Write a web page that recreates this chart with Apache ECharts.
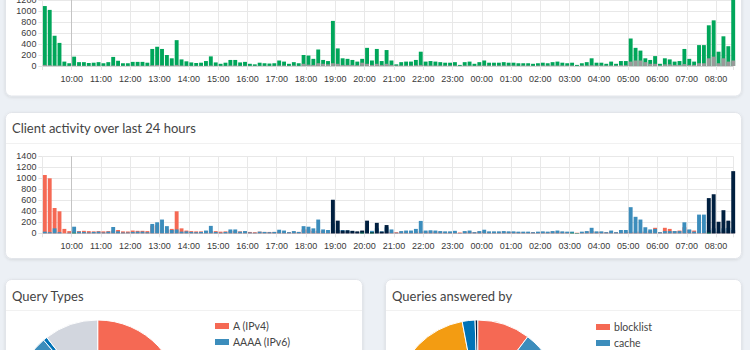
<!DOCTYPE html>
<html><head><meta charset="utf-8">
<script src="https://cdn.jsdelivr.net/npm/echarts@6/dist/echarts.min.js"></script>
<style>html,body{margin:0;padding:0;background:#ecf0f5;}#c{width:750px;height:350px;}</style>
</head><body><div id="c"></div>
<script>
// ---- time slots (10-minute bins, first bin centred at 09:05) ----
const firstSlotMinute = 545;   // 09:05
const slotMinutes = 10;

// ---- Total queries over last 24 hours (one row per hour, 09:05 .. 08:35) ----
const totalQueries = [
  1090,1020,550,420,80,50,     // 09
  170,70,70,55,60,70,          // 10
  50,70,165,95,50,50,          // 11
  75,75,75,60,310,350,         // 12
  310,200,140,470,120,85,      // 13
  65,55,60,90,175,65,          // 14
  40,60,110,110,65,75,         // 15
  40,30,60,50,45,50,           // 16
  100,80,40,70,50,200,         // 17
  190,130,300,110,90,820,      // 18
  320,140,130,110,80,130,      // 19
  330,100,310,90,290,100,      // 20
  30,70,80,80,110,260,         // 21
  80,90,80,70,60,60,           // 22
  70,20,70,80,40,70,           // 23
  100,60,60,60,70,60,          // 00
  60,50,50,50,40,50,           // 01
  60,50,70,80,60,50,           // 02
  60,20,50,70,140,60,          // 03
  60,40,80,40,90,90,           // 04
  500,330,280,140,110,180,     // 05
  40,140,120,80,90,310,        // 06
  130,80,380,380,740,830,      // 07
  260,540,360,1220             // 08
];
const blockedQueries = [
  20,15,10,10,5,5,
  10,5,5,5,5,5,
  5,5,10,5,5,5,
  5,5,5,5,15,20,
  15,10,10,20,10,5,
  5,5,5,5,10,5,
  5,5,10,10,5,5,
  5,5,5,5,5,5,
  10,10,5,10,5,40,
  25,20,50,40,30,50,
  40,20,20,20,15,60,
  40,20,40,20,40,20,
  10,10,10,10,15,20,
  10,10,10,10,10,10,
  10,5,10,10,5,10,
  10,10,10,10,10,10,
  10,5,10,10,5,10,
  10,10,10,10,10,10,
  10,5,10,10,15,10,
  10,10,10,10,15,15,
  80,100,100,70,40,40,
  10,30,30,20,20,35,
  20,20,50,50,140,170,
  50,140,80,100
];

// ---- Client activity (stacked per client) ----
const clientRed = [
  1060,1000,460,400,80,40,
  40,40,45,40,35,40,
  35,40,50,60,35,35,
  50,45,45,40,140,150,
  60,70,80,400,90,50,
  40,35,35,40,40,40,
  30,35,40,40,35,35,
  25,20,30,25,25,25,
  35,30,20,30,25,70,
  70,40,50,40,30,30,
  30,30,25,25,25,30,
  30,25,30,25,30,30,
  20,30,30,30,30,35,
  30,35,30,30,25,25,
  25,15,30,30,20,30,
  35,25,25,25,30,25,
  25,20,20,20,20,20,
  25,20,30,30,25,20,
  20,10,20,30,40,25,
  25,20,30,20,30,30,
  25,30,30,30,40,100,
  20,100,80,40,50,110,
  60,50,40,40,30,30,
  20,30,30,30
];
const clientBlue = [
  30,20,90,20,0,10,
  120,30,25,15,25,30,
  15,30,115,35,15,15,
  25,30,30,20,170,200,
  250,130,60,70,30,35,
  25,20,25,50,135,25,
  10,25,70,70,30,40,
  15,10,30,25,20,25,
  65,50,20,40,25,130,
  120,90,250,70,60,180,
  60,60,50,40,20,40,
  70,45,90,35,110,70,
  10,40,50,50,80,225,
  50,55,50,40,35,35,
  45,5,40,50,20,40,
  65,35,35,35,40,35,
  35,30,30,30,20,30,
  35,30,40,50,35,30,
  30,5,30,40,100,35,
  35,20,50,20,60,60,
  475,300,250,110,70,80,
  20,40,40,40,40,200,
  70,30,340,340,60,90,
  30,90,100,60
];
const clientNavy = [
  0,0,0,0,0,0,
  0,0,0,0,0,0,
  0,0,0,0,0,0,
  0,0,0,0,0,0,
  0,0,0,0,0,0,
  0,0,0,0,0,0,
  0,0,0,0,0,0,
  0,0,0,0,0,0,
  0,0,0,0,0,0,
  0,0,0,0,0,610,
  230,50,55,45,35,50,
  230,20,190,30,150,0,
  0,0,0,0,0,0,
  0,0,0,0,0,0,
  0,0,0,0,0,0,
  0,0,0,0,0,0,
  0,0,0,0,0,0,
  0,0,0,0,0,0,
  0,0,0,0,0,0,
  0,0,0,0,0,0,
  0,0,0,0,0,0,
  0,0,0,0,0,0,
  0,0,0,0,640,710,
  210,420,230,1130
];
const clientGreen = [
  0,0,0,0,0,0,
  10,0,0,0,0,0,
  0,0,0,0,0,0,
  0,0,0,0,0,0,
  0,0,0,0,0,0,
  0,0,0,0,0,0,
  0,0,0,0,0,0,
  0,0,0,0,0,0,
  0,0,0,0,0,0,
  0,0,0,0,0,0,
  0,0,0,0,0,10,
  0,10,0,0,0,0,
  0,0,0,0,0,0,
  0,0,0,0,0,0,
  0,0,0,0,0,0,
  0,0,0,0,0,0,
  0,0,0,0,0,0,
  0,0,0,0,0,0,
  10,5,0,0,0,0,
  0,0,0,0,0,0,
  0,0,0,0,0,0,
  0,0,0,0,0,0,
  0,0,0,0,10,0,
  0,0,0,0
];

// ---- Pie charts ----
const queryTypeNames  = ['A (IPv4)', 'AAAA (IPv6)', 'PTR', 'HTTPS'];
const queryTypeValues = [52.0, 36.7, 0.8, 10.5];
const queryTypeColors = ['#f56954', '#3c8dbc', '#0073b7', '#d2d6de'];
const queryTypeLegendShown = ['A (IPv4)', 'AAAA (IPv6)'];

const answeredNames  = ['blocklist', 'cache', 'other', 'dns9.quad9.net#53', 'dns.google#53', 'one.one.one.one#53', 'localhost#53'];
const answeredValues = [10.3, 25.0, 8.0, 15.0, 38.7, 2.5, 0.5];
const answeredColors = ['#f56954', '#3c8dbc', '#00a65a', '#00c0ef', '#f39c12', '#0073b7', '#001f3f'];
const answeredLegendShown = ['blocklist', 'cache'];

// ---- axis ----
const axisMin = 540;    // 09:00
const axisMax = 1955;   // 08:35 next day
const yMax = 1400, yStep = 200;

const slotX = totalQueries.map((_, i) => firstSlotMinute + i * slotMinutes);
const pair = arr => arr.map((v, i) => [slotX[i], v]);

const tickFont = 'Liberation Sans, Arial, sans-serif';
const uiFont = 'Lato, "Noto Sans", sans-serif';

function hourLabel(v) {
  if (v % 60 !== 0 || v <= axisMin || v >= axisMax) return '';
  const h = (v / 60) % 24;
  return String(h).padStart(2, '0') + ':00';
}
function xAxisCfg(gridIndex) {
  return {
    type: 'value', gridIndex, min: axisMin, max: axisMax, interval: 60,
    axisLine: { show: true, lineStyle: { color: '#d4d4d4' } },
    axisTick: { show: true, length: 4, lineStyle: { color: '#e4e4e4' } },
    axisLabel: { formatter: hourLabel, fontSize: 9, fontFamily: tickFont, color: '#3a3a3a', margin: 8 },
    splitLine: { show: true, lineStyle: { color: '#e8e8e8', width: 1 } }
  };
}
function yAxisCfg(gridIndex) {
  return {
    type: 'value', gridIndex, min: 0, max: yMax, interval: yStep,
    axisLine: { show: false },
    axisTick: { show: true, length: 4, lineStyle: { color: '#e4e4e4' } },
    axisLabel: { fontSize: 9, fontFamily: tickFont, color: '#3a3a3a', margin: 6,
      showMinLabel: true, showMaxLabel: true, formatter: v => String(v) },
    splitLine: { show: true, lineStyle: { color: '#e8e8e8', width: 1 } }
  };
}
const zeroLine = {
  silent: true, symbol: 'none', animation: false,
  label: { show: false },
  lineStyle: { color: '#c4c4c4', width: 1, type: 'solid' },
  data: [{ xAxis: 600 }]
};

function card(x, y, w, h) {
  return { type: 'rect', z: -10, shape: { x, y, width: w, height: h, r: 6 },
    style: { fill: '#fff', stroke: '#e2e5ea', lineWidth: 1, shadowBlur: 3, shadowColor: 'rgba(0,0,0,0.10)', shadowOffsetY: 1 } };
}
function hline(x1, x2, y) {
  return { type: 'line', z: -9, shape: { x1, y1: y, x2, y2: y }, style: { stroke: '#f1f1f1', lineWidth: 1 } };
}
function title(x, y, text) {
  return { type: 'text', z: -8, x, y, style: { text, font: '13px ' + uiFont, fill: '#444', verticalAlign: 'middle', align: 'left' } };
}
function legendCfg(data, left, top) {
  return { data, orient: 'vertical', left, top, width: 140, height: 200, icon: 'rect',
    itemWidth: 16, itemHeight: 8, itemGap: 4, selectedMode: false, padding: 0,
    textStyle: { fontSize: 10.5, fontFamily: uiFont, color: '#444', lineHeight: 12, padding: [0, 0, 0, -2] } };
}

const chart = echarts.init(document.getElementById('c'), null, { renderer: 'svg', width: 750, height: 350 });
const barW = 3.9;
chart.setOption({
  backgroundColor: '#ecf0f5',
  animation: false,
  graphic: [
    card(5.5, -20, 736, 116),
    card(5.5, 112.5, 736, 146),
    hline(6, 741, 143.5),
    title(12, 128, 'Client activity over last 24 hours'),
    card(5.5, 279.5, 357, 120),
    card(385.5, 279.5, 356, 120),
    hline(6, 362, 310.5),
    hline(386, 741, 310.5),
    title(12, 296, 'Query Types'),
    title(392, 296, 'Queries answered by')
  ],
  grid: [
    { left: 42.4, top: -11, width: 690.8, height: 77, containLabel: false, outerBoundsMode: 'none' },
    { left: 42.4, top: 156.3, width: 690.8, height: 77, containLabel: false, outerBoundsMode: 'none' }
  ],
  xAxis: [xAxisCfg(0), xAxisCfg(1)],
  yAxis: [yAxisCfg(0), yAxisCfg(1)],
  legend: [
    legendCfg(queryTypeLegendShown, 213, 320),
    legendCfg(answeredLegendShown, 594, 321)
  ],
  series: [
    { type: 'bar', name: 'Permitted', xAxisIndex: 0, yAxisIndex: 0, barWidth: barW, barGap: '-100%',
      itemStyle: { color: '#00a65a' }, data: pair(totalQueries), markLine: zeroLine },
    { type: 'bar', name: 'Blocked', xAxisIndex: 0, yAxisIndex: 0, barWidth: barW, barGap: '-100%',
      itemStyle: { color: '#999999' }, data: pair(blockedQueries) },

    { type: 'bar', name: 'client-1', stack: 'clients', xAxisIndex: 1, yAxisIndex: 1, barWidth: barW,
      itemStyle: { color: '#f56954' }, data: pair(clientRed), markLine: zeroLine },
    { type: 'bar', name: 'client-2', stack: 'clients', xAxisIndex: 1, yAxisIndex: 1, barWidth: barW,
      itemStyle: { color: '#3c8dbc' }, data: pair(clientBlue) },
    { type: 'bar', name: 'client-3', stack: 'clients', xAxisIndex: 1, yAxisIndex: 1, barWidth: barW,
      itemStyle: { color: '#001f3f' }, data: pair(clientNavy) },
    { type: 'bar', name: 'client-4', stack: 'clients', xAxisIndex: 1, yAxisIndex: 1, barWidth: barW,
      itemStyle: { color: '#00a65a' }, data: pair(clientGreen) },

    { type: 'pie', name: 'Query Types', center: [97.7, 403], radius: 83, startAngle: 90, clockwise: true,
      label: { show: false }, labelLine: { show: false }, emphasis: { disabled: true },
      itemStyle: { borderColor: '#fff', borderWidth: 1 },
      data: queryTypeNames.map((n, i) => ({ name: n, value: queryTypeValues[i], itemStyle: { color: queryTypeColors[i] } })) },
    { type: 'pie', name: 'Queries answered by', center: [477.7, 403], radius: 83, startAngle: 90, clockwise: true,
      label: { show: false }, labelLine: { show: false }, emphasis: { disabled: true },
      itemStyle: { borderColor: '#fff', borderWidth: 1 },
      data: answeredNames.map((n, i) => ({ name: n, value: answeredValues[i], itemStyle: { color: answeredColors[i] } })) }
  ]
});
</script>
</body></html>
